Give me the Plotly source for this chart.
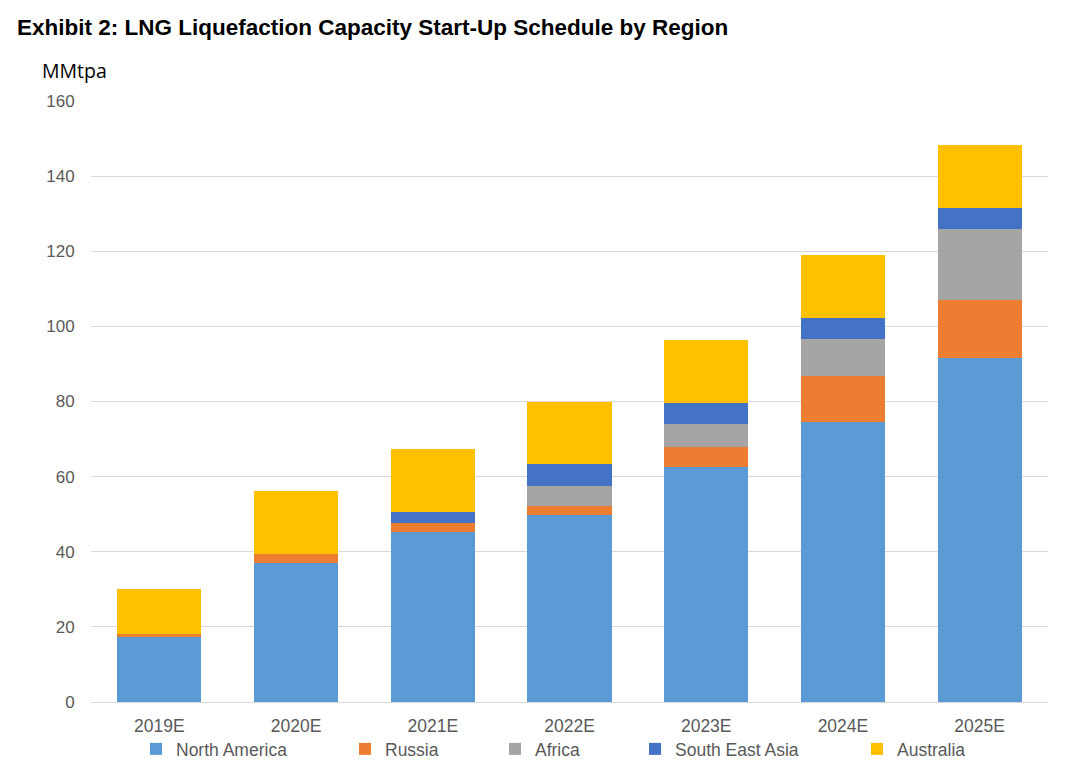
import plotly.graph_objects as go

# LNG liquefaction capacity start-up schedule, stacked by region (MMtpa)

years = ["2019E", "2020E", "2021E", "2022E", "2023E", "2024E", "2025E"]

north_america = [17.5, 37.1, 45.2, 49.8, 62.6, 74.6, 91.6]
russia = [0.5, 2.3, 2.4, 2.4, 5.4, 12.3, 15.5]
africa = [0.0, 0.0, 0.0, 5.3, 6.1, 9.7, 18.7]
south_east_asia = [0.0, 0.0, 3.0, 5.9, 5.5, 5.6, 5.6]
australia = [12.0, 16.8, 16.7, 16.6, 16.7, 16.7, 16.9]

y_ticks = [0, 20, 40, 60, 80, 100, 120, 140, 160]

series = [
    ("North America", north_america, "#5B9BD5"),
    ("Russia", russia, "#ED7D31"),
    ("Africa", africa, "#A5A5A5"),
    ("South East Asia", south_east_asia, "#4472C4"),
    ("Australia", australia, "#FFC000"),
]

# page body adds an 8px margin, so the figure is 16px smaller than the window
W, H = 1050, 752
L, R, T, B = 83, 10, 93, 58
plot_w = W - L - R
plot_h = H - T - B


def paper_y(py):
    # figure pixel row -> paper coordinate
    return (T + plot_h - py) / plot_h


# one legend per region so the entries can sit where the original has them
legend_px = [128, 337, 487, 627, 849]

fig = go.Figure()
for i, (name, values, color) in enumerate(series):
    fig.add_trace(
        go.Bar(
            x=years,
            y=values,
            name=name,
            marker=dict(color=color, line=dict(width=0)),
            legend="legend" if i == 0 else "legend%d" % (i + 1),
        )
    )

legend_style = dict(
    orientation="h",
    yanchor="middle",
    y=paper_y(741),
    xanchor="left",
    font=dict(family="Liberation Sans, Arial, sans-serif", size=17.5, color="#595959"),
    bgcolor="rgba(0,0,0,0)",
    borderwidth=0,
    itemwidth=30,
)

layout_legends = {}
for i, px in enumerate(legend_px):
    key = "legend" if i == 0 else "legend%d" % (i + 1)
    layout_legends[key] = dict(legend_style, x=(px - L) / plot_w)

fig.update_layout(
    barmode="stack",
    bargap=0.385,
    width=W,
    height=H,
    showlegend=True,
    margin=dict(l=L, r=R, t=T, b=B, autoexpand=False),
    plot_bgcolor="white",
    paper_bgcolor="white",
    font=dict(family="Liberation Sans, Arial, sans-serif", size=17, color="#595959"),
    title=dict(
        text="<b>Exhibit 2: LNG Liquefaction Capacity Start-Up Schedule by Region</b>",
        x=9 / W,
        xanchor="left",
        xref="container",
        y=1 - 19 / H,
        yanchor="middle",
        yref="container",
        font=dict(family="Liberation Sans, Arial, sans-serif", size=22.5, color="black"),
    ),
    annotations=[
        dict(
            text="MMtpa",
            xref="paper",
            yref="paper",
            x=(32 - L) / plot_w,
            y=paper_y(62),
            xanchor="left",
            yanchor="middle",
            showarrow=False,
            font=dict(family="Open Sans, sans-serif", size=19.5, color="black"),
        )
    ],
    xaxis=dict(
        showgrid=False,
        showline=True,
        linecolor="#D9D9D9",
        linewidth=1,
        ticks="outside",
        ticklen=8,
        tickcolor="rgba(0,0,0,0)",
        tickfont=dict(size=17.5),
    ),
    yaxis=dict(
        range=[0, 160],
        tickvals=y_ticks,
        showgrid=True,
        gridcolor="#D9D9D9",
        gridwidth=1,
        zeroline=False,
        ticks="outside",
        ticklen=12,
        tickcolor="rgba(0,0,0,0)",
    ),
    **layout_legends,
)

fig.write_html("out.html")
